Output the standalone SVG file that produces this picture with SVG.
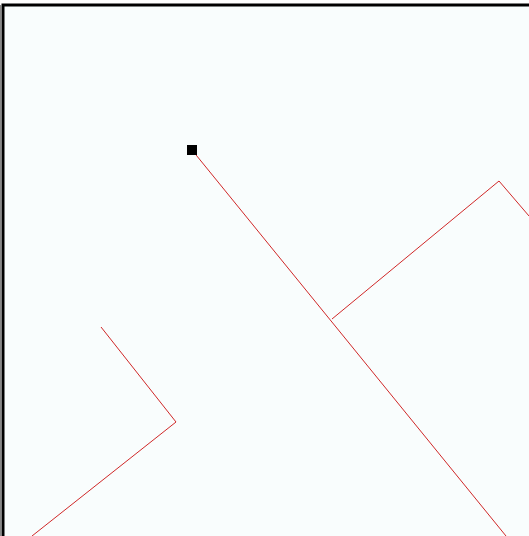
<svg xmlns="http://www.w3.org/2000/svg" width="529" height="536" viewBox="0 0 529 536">
<style>
.edge{fill:none;stroke:#d02828;stroke-width:1}
</style>
<rect x="0" y="0" width="529" height="536" fill="#ffffff"/>
<rect x="3" y="5" width="530" height="535" fill="#f9fdfd" stroke="#000" stroke-width="3"/>
<line x1="0.5" y1="5" x2="0.5" y2="536" stroke="#888" stroke-width="1"/>
<g id="connectors">
<polyline class="edge" points="192,150 506,536"/>
<polyline class="edge" points="332,319 499,181 529,216"/>
<polyline class="edge" points="101,327 176,422 32,536"/>
</g>
<g id="node-start">
<rect x="187" y="145" width="10" height="10" fill="#000"/>
</g>
</svg>
